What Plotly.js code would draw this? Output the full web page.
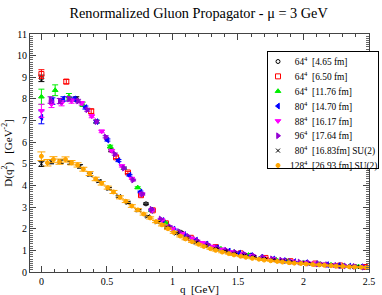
<!DOCTYPE html>
<html><head><meta charset="utf-8">
<script src="https://cdn.plot.ly/plotly-3.0.1.min.js"></script>
<style>html,body{margin:0;padding:0;background:#fff}#chart{width:382px;height:295px}</style>
</head><body><div id="chart"></div>
<script>
// 64^4 [4.65 fm]
const q1 = [0, 0.266, 0.532, 0.798, 1.064, 1.33, 1.596, 1.862, 2.128, 2.394];
const d1 = [8.95, 8.0, 5.62, 3.15, 1.84, 1.15, 0.77, 0.53, 0.37, 0.26];
const e1 = [0.15, 0.1, 0.06, 0.04, 0.03, 0.02, 0.02, 0.01, 0.01, 0.01];
// 64^4 [6.50 fm]
const q2 = [0, 0.19, 0.38, 0.57, 0.66, 0.76, 0.85, 0.95, 1.14, 1.33, 1.52, 1.71, 1.9, 2.09, 2.28, 2.47];
const d2 = [9.15, 8.8, 7.43, 5.3, 4.6, 3.55, 2.85, 2.25, 1.58, 1.15, 0.86, 0.65, 0.5, 0.39, 0.3, 0.23];
const e2 = [0.2, 0.1, 0.1, 0.06, 0.05, 0.04, 0.04, 0.03, 0.02, 0.02, 0.02, 0.01, 0.01, 0.01, 0.01, 0.01];
// 64^4 [11.76 fm]
const q3 = [0, 0.105, 0.21, 0.315, 0.42, 0.525, 0.63, 0.735, 0.84, 0.945, 1.05, 1.16, 1.26, 1.37, 1.47, 1.58, 1.68, 1.79, 1.89, 2.0, 2.1, 2.21, 2.31, 2.42];
const d3 = [8.1, 8.4, 8.1, 7.75, 6.95, 5.8, 4.8, 3.9, 2.85, 2.28, 1.87, 1.53, 1.29, 1.07, 0.92, 0.78, 0.68, 0.58, 0.5, 0.44, 0.38, 0.33, 0.29, 0.25];
const e3 = [0.35, 0.25, 0.15, 0.1, 0.08, 0.06, 0.05, 0.04, 0.03, 0.03, 0.02, 0.02, 0.02, 0.02, 0.01, 0.01, 0.01, 0.01, 0.01, 0.01, 0.01, 0.01, 0.01, 0.01];
// 80^4 [14.70 fm]
const q4 = [0, 0.084, 0.168, 0.252, 0.336, 0.42, 0.504, 0.588, 0.672, 0.756, 0.84, 0.924, 1.008, 1.09, 1.18, 1.26, 1.34, 1.43, 1.51, 1.6, 1.68, 1.77, 1.85, 1.93, 2.02, 2.1, 2.18, 2.27, 2.35, 2.44];
const d4 = [7.15, 7.9, 8.0, 8.0, 7.6, 6.95, 6.1, 5.15, 4.47, 3.7, 2.85, 2.38, 1.98, 1.73, 1.47, 1.29, 1.12, 0.97, 0.87, 0.76, 0.68, 0.6, 0.53, 0.48, 0.43, 0.38, 0.34, 0.3, 0.27, 0.24];
const e4 = [0.3, 0.15, 0.1, 0.08, 0.07, 0.06, 0.05, 0.05, 0.04, 0.04, 0.03, 0.03, 0.02, 0.02, 0.02, 0.02, 0.02, 0.01, 0.01, 0.01, 0.01, 0.01, 0.01, 0.01, 0.01, 0.01, 0.01, 0.01, 0.01, 0.01];
// 88^4 [16.17 fm]
const q5 = [0, 0.077, 0.154, 0.23, 0.307, 0.384, 0.46, 0.537, 0.614, 0.69, 0.768, 0.845, 0.92, 1.0, 1.075, 1.15, 1.23, 1.31, 1.38, 1.46, 1.54, 1.61, 1.69, 1.77, 1.84, 1.92, 2.0, 2.07, 2.15, 2.23, 2.3, 2.38, 2.46];
const d5 = [7.45, 7.75, 7.8, 7.9, 7.8, 7.2, 6.5, 5.6, 4.9, 4.32, 3.6, 2.85, 2.4, 2.0, 1.78, 1.56, 1.35, 1.18, 1.05, 0.93, 0.83, 0.75, 0.67, 0.6, 0.54, 0.49, 0.44, 0.4, 0.36, 0.32, 0.29, 0.26, 0.23];
const e5 = [0.3, 0.15, 0.12, 0.1, 0.08, 0.07, 0.06, 0.05, 0.05, 0.04, 0.04, 0.03, 0.03, 0.03, 0.02, 0.02, 0.02, 0.02, 0.02, 0.01, 0.01, 0.01, 0.01, 0.01, 0.01, 0.01, 0.01, 0.01, 0.01, 0.01, 0.01, 0.01, 0.01];
// 96^4 [17.64 fm]
const q6 = [0.07, 0.14, 0.21, 0.28, 0.35, 0.42, 0.49, 0.56, 0.63, 0.7, 0.77, 0.84, 0.91, 0.98, 1.05, 1.12, 1.19, 1.27, 1.34, 1.41, 1.48, 1.55, 1.62, 1.69, 1.76, 1.83, 1.9, 1.97, 2.04, 2.11, 2.18, 2.25, 2.32, 2.39, 2.46];
const d6 = [7.95, 7.9, 8.0, 7.9, 7.5, 6.95, 6.25, 5.45, 4.8, 4.25, 3.6, 2.9, 2.45, 2.1, 1.87, 1.65, 1.45, 1.27, 1.12, 1.01, 0.91, 0.82, 0.75, 0.67, 0.61, 0.55, 0.5, 0.46, 0.42, 0.38, 0.34, 0.31, 0.28, 0.26, 0.23];
const e6 = [0.15, 0.12, 0.1, 0.08, 0.07, 0.06, 0.05, 0.05, 0.05, 0.04, 0.04, 0.03, 0.03, 0.03, 0.02, 0.02, 0.02, 0.02, 0.02, 0.02, 0.01, 0.01, 0.01, 0.01, 0.01, 0.01, 0.01, 0.01, 0.01, 0.01, 0.01, 0.01, 0.01, 0.01, 0.01];
// 80^4 [16.83 fm] SU(2)
const q7 = [0, 0.074, 0.147, 0.22, 0.295, 0.37, 0.44, 0.515, 0.59, 0.66, 0.74, 0.81, 0.885, 0.96, 1.03, 1.105, 1.18, 1.25, 1.33, 1.4, 1.47, 1.55, 1.62, 1.7, 1.77, 1.84, 1.92, 1.99, 2.06, 2.14, 2.21, 2.29, 2.36, 2.43];
const d7 = [5.0, 5.1, 5.1, 5.05, 4.88, 4.5, 4.2, 3.85, 3.5, 3.2, 2.85, 2.57, 2.3, 2.05, 1.78, 1.55, 1.36, 1.2, 1.07, 0.95, 0.85, 0.76, 0.68, 0.61, 0.55, 0.5, 0.45, 0.41, 0.37, 0.34, 0.31, 0.28, 0.25, 0.23];
const e7 = [0.12, 0.1, 0.08, 0.07, 0.08, 0.06, 0.05, 0.05, 0.04, 0.04, 0.04, 0.03, 0.03, 0.03, 0.02, 0.02, 0.02, 0.02, 0.02, 0.02, 0.01, 0.01, 0.01, 0.01, 0.01, 0.01, 0.01, 0.01, 0.01, 0.01, 0.01, 0.01, 0.01, 0.01];
// 128^4 [26.93 fm] SU(2)
const q8 = [0, 0.046, 0.092, 0.138, 0.184, 0.23, 0.276, 0.32, 0.368, 0.414, 0.46, 0.506, 0.55, 0.6, 0.644, 0.69, 0.736, 0.78, 0.83, 0.875, 0.92, 0.966, 1.01, 1.06, 1.1, 1.15, 1.2, 1.24, 1.29, 1.33, 1.38, 1.43, 1.47, 1.52, 1.56, 1.61, 1.66, 1.7, 1.75, 1.8, 1.84, 1.89, 1.93, 1.98, 2.02, 2.07, 2.12, 2.16, 2.21, 2.25, 2.3, 2.35, 2.39, 2.44, 2.48];
const d8 = [5.35, 5.05, 5.2, 5.1, 5.2, 5.05, 4.95, 4.75, 4.55, 4.3, 4.1, 3.9, 3.7, 3.45, 3.27, 3.05, 2.87, 2.68, 2.5, 2.33, 2.18, 2.0, 1.83, 1.66, 1.53, 1.4, 1.28, 1.18, 1.08, 1.0, 0.92, 0.85, 0.79, 0.73, 0.68, 0.63, 0.59, 0.55, 0.52, 0.49, 0.46, 0.43, 0.41, 0.39, 0.37, 0.35, 0.33, 0.31, 0.29, 0.27, 0.26, 0.24, 0.23, 0.22, 0.21];
const e8 = [0.2, 0.15, 0.13, 0.12, 0.12, 0.1, 0.1, 0.09, 0.09, 0.08, 0.08, 0.07, 0.07, 0.07, 0.06, 0.06, 0.06, 0.05, 0.05, 0.05, 0.05, 0.04, 0.04, 0.04, 0.04, 0.03, 0.03, 0.03, 0.03, 0.03, 0.03, 0.02, 0.02, 0.02, 0.02, 0.02, 0.02, 0.02, 0.02, 0.02, 0.02, 0.02, 0.02, 0.02, 0.02, 0.02, 0.02, 0.02, 0.02, 0.02, 0.02, 0.02, 0.02, 0.02, 0.02];

const seriesNames = [
  "\u00a0\u00a064<sup>4</sup>\u00a0\u00a0[4.65 fm]",
  "\u00a0\u00a064<sup>4</sup>\u00a0\u00a0[6.50 fm]",
  "\u00a0\u00a064<sup>4</sup>\u00a0\u00a0[11.76 fm]",
  "\u00a0\u00a080<sup>4</sup>\u00a0\u00a0[14.70 fm]",
  "\u00a0\u00a088<sup>4</sup>\u00a0\u00a0[16.17 fm]",
  "\u00a0\u00a096<sup>4</sup>\u00a0\u00a0[17.64 fm]",
  "\u00a0\u00a080<sup>4</sup>\u00a0\u00a0[16.83fm] SU(2)",
  "128<sup>4</sup>\u00a0\u00a0[26.93 fm] SU(2)"
];
const xTickVals = [0, 0.5, 1, 1.5, 2, 2.5];
const xTickText = ["0", "0.5", "1", "1.5", "2", "2.5"];
const yTickVals = [0,1,2,3,4,5,6,7,8,9,10,11];

const styles = [
  {color:"#000000", symbol:"circle-open", size:4, cap:3},
  {color:"#ff0000", symbol:"square-open", size:5, cap:3},
  {color:"#00ee00", symbol:"triangle-up", size:5, cap:3},
  {color:"#0000ff", symbol:"triangle-left", size:5, cap:3},
  {color:"#ff00ff", symbol:"triangle-down", size:5, cap:3},
  {color:"#9400d3", symbol:"triangle-right", size:5, cap:3},
  {color:"#000000", symbol:"x-thin-open", size:4, cap:3},
  {color:"#ffa500", symbol:"circle", size:4, cap:4}
];
const Q = [q1,q2,q3,q4,q5,q6,q7,q8], D = [d1,d2,d3,d4,d5,d6,d7,d8], E = [e1,e2,e3,e4,e5,e6,e7,e8];

const traces = Q.map((q, i) => ({
  type: "scatter", mode: "markers", x: q, y: D[i], name: seriesNames[i],
  marker: {symbol: styles[i].symbol, size: styles[i].size, color: styles[i].color,
           line: {color: styles[i].color, width: 1}},
  error_y: {type: "data", array: E[i], visible: true, color: styles[i].color, thickness: 1, width: styles[i].cap}
}));

const serif = "Liberation Serif, Times New Roman, serif";
const NB = "\u00a0";
const layout = {
  width: 382, height: 295,
  margin: {l: 30, r: 13, t: 34, b: 23, autoexpand: false},
  paper_bgcolor: "#fff", plot_bgcolor: "#fff",
  font: {family: serif, size: 10, color: "#000"},
  title: {text: "Renormalized Gluon Propagator - \u03bc = 3 GeV", font: {family: serif, size: 14.3, color:"#000"},
          x: 0.52, xanchor: "center", y: 0.956, yanchor: "middle"},
  showlegend: true,
  legend: {x: 0.699, y: 0.929, xanchor: "left", yanchor: "top", bgcolor: "#fff",
           bordercolor: "#000", borderwidth: 1, font: {family: serif, size: 9.4, color: "#000"}},
  xaxis: {range: [-0.087, 2.5], showgrid: false, zeroline: false, showline: true, linecolor: "#444", linewidth: 1,
          mirror: "allticks", ticks: "inside", ticklen: 6, tickcolor: "#444", tickwidth: 1,
          tickmode: "array", tickvals: xTickVals, ticktext: xTickText, tickfont: {family: serif, size: 10},
          minor: {dtick: 0.1, tick0: 0, ticks: "inside", ticklen: 3, tickcolor: "#444", tickwidth: 1, showgrid: false},
          title: {text: NB+NB+NB+"q"+NB+NB+"[GeV]", font: {family: serif, size: 11}, standoff: 1}},
  yaxis: {range: [0, 11], showgrid: false, zeroline: false, showline: true, linecolor: "#444", linewidth: 1,
          mirror: "allticks", ticks: "inside", ticklen: 6, tickcolor: "#444", tickwidth: 1,
          tickmode: "array", tickvals: yTickVals, tickfont: {family: serif, size: 10},
          minor: {dtick: 0.1, tick0: 0, ticks: "inside", ticklen: 3, tickcolor: "#666", tickwidth: 1, showgrid: false},
          title: {text: "D(q<sup>2</sup>)"+NB+NB+NB+"[GeV<sup>-2</sup>]"+NB.repeat(6), font: {family: serif, size: 11}, standoff: 4}}
};

// legend box geometry in page pixels
const LEG_LEFT = 267, LEG_TOP = 51, LEG_W = 111, LEG_H = 117, ROW0 = 10.5, ROW_STEP = 14.85, SYM_X = 11, TXT_X = 23;

Plotly.newPlot("chart", traces, layout, {staticPlot: true, displayModeBar: false}).then(function(gd){
  const leg = gd.querySelector(".legend");
  if (!leg) return;
  leg.setAttribute("transform", "translate(" + LEG_LEFT + "," + LEG_TOP + ")");
  leg.removeAttribute("clip-path");
  leg.querySelectorAll("[clip-path]").forEach(el => el.removeAttribute("clip-path"));
  const bg = leg.querySelector(".bg");
  if (bg) { bg.setAttribute("x", 0.5); bg.setAttribute("y", 0.5); bg.setAttribute("width", LEG_W); bg.setAttribute("height", LEG_H); }
  const sb = leg.querySelector(".scrollbox");
  if (sb) sb.setAttribute("transform", "translate(0,0)");
  leg.querySelectorAll(".groups").forEach(g => g.setAttribute("transform", "translate(0,0)"));
  leg.querySelectorAll(".traces").forEach((it, i) => {
    it.setAttribute("transform", "translate(0," + (ROW0 + i*ROW_STEP) + ")");
    it.querySelectorAll(".legendpoints").forEach(lp => lp.removeAttribute("transform"));
    it.querySelectorAll(".legendpoints path").forEach(p => p.setAttribute("transform", "translate(" + SYM_X + ",0)"));
    it.querySelectorAll(".legendtext").forEach(tx => {
      tx.setAttribute("x", TXT_X);
      tx.querySelectorAll("tspan.line").forEach(t => t.setAttribute("x", TXT_X));
    });
  });
});
</script></body></html>
